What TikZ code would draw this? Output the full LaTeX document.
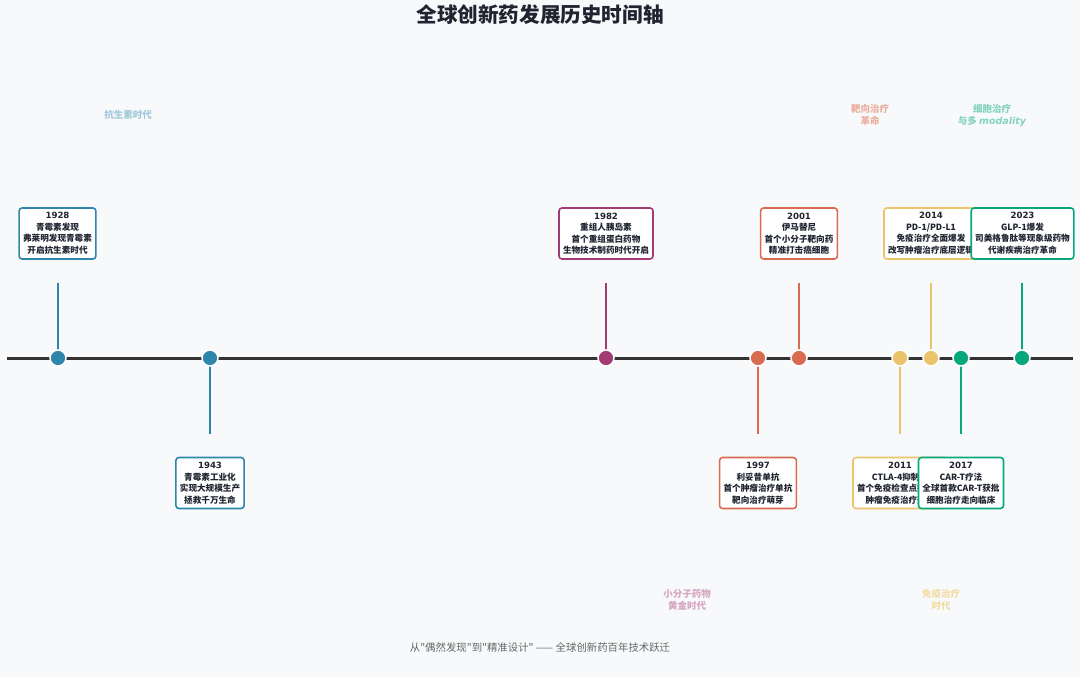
\documentclass[tikz,border=0pt]{standalone}
\usepackage{fontspec}
\setmainfont{Noto Sans CJK SC}
\newfontfamily\dejavu{DejaVu Sans}
\newfontfamily\footfont{Noto Sans CJK SC}
\usepackage{tikz}

\definecolor{bg}{HTML}{F7F9FB}
\definecolor{ink}{HTML}{1F2430}
\definecolor{axisgray}{HTML}{333333}
\definecolor{footgray}{HTML}{666666}
\definecolor{cblue}{HTML}{2E86AB}
\definecolor{cpurple}{HTML}{A23B72}
\definecolor{cred}{HTML}{D96B50}
\definecolor{cyellow}{HTML}{E9C46A}
\definecolor{cgreen}{HTML}{06A77D}

\newcommand{\yr}[1]{{\dejavu\bfseries #1}}

\tikzset{
  card/.style={draw=#1, fill=white, line width=1.6pt, rounded corners=3pt, align=center,
    font=\bfseries\fontsize{8.6}{11.5}\selectfont, text=ink, inner xsep=4pt, inner ysep=2pt,
    minimum height=51pt},
  dot/.style={circle, fill=#1, draw=white, line width=1.5pt, minimum size=16pt, inner sep=0pt},
  stem/.style={draw=#1, line width=1.6pt},
  era/.style={text=#1, font=\bfseries\fontsize{9.5}{12}\selectfont, align=center}
}

\begin{document}
\begin{tikzpicture}[x=1pt,y=-1pt]
            \fill[bg] (0,0) rectangle (1080,677);
            \useasboundingbox (0,0) rectangle (1080,677);

            \node[font=\bfseries\fontsize{20.6}{24}\selectfont, text=ink] (title) at (540,15) {全球创新药发展历史时间轴};

            \node[era=cblue!45] (e1) at (128,115) {抗生素时代};
            \node[era=cred!55] (e2) at (870,115) {靶向治疗\\革命};
            \node[era=cgreen!50] (e3) at (992,115) {细胞治疗\\与多 {\dejavu\itshape modality}};
            \node[era=cpurple!45] (e4) at (687,600) {小分子药物\\黄金时代};
            \node[era=cyellow!60] (e5) at (941,600) {免疫治疗\\时代};

            \coordinate (ax0) at (7,358);
            \coordinate (ax1) at (1073,358);
            \draw[axisgray, line width=3pt] (ax0) -- (ax1);

            \coordinate (s1928) at (58,283);
            \coordinate (s1943) at (210,434);
            \coordinate (s1982) at (606,283);
            \coordinate (s1997) at (758,434);
            \coordinate (s2001) at (799,283);
            \coordinate (s2011) at (900,434);
            \coordinate (s2014) at (931,283);
            \coordinate (s2017) at (961,434);
            \coordinate (s2023) at (1022,283);

            \draw[stem=cblue] (s1928) -- (58,358);
            \draw[stem=cblue] (s1943) -- (210,358);
            \draw[stem=cpurple] (s1982) -- (606,358);
            \draw[stem=cred] (s1997) -- (758,358);
            \draw[stem=cred] (s2001) -- (799,358);
            \draw[stem=cyellow] (s2011) -- (900,358);
            \draw[stem=cyellow] (s2014) -- (931,358);
            \draw[stem=cgreen] (s2017) -- (961,358);
            \draw[stem=cgreen] (s2023) -- (1022,358);

            \node[dot=cblue] (d1928) at (58,358) {};
            \node[dot=cblue] (d1943) at (210,358) {};
            \node[dot=cpurple] (d1982) at (606,358) {};
            \node[dot=cred] (d1997) at (758,358) {};
            \node[dot=cred] (d2001) at (799,358) {};
            \node[dot=cyellow] (d2011) at (900,358) {};
            \node[dot=cyellow] (d2014) at (931,358) {};
            \node[dot=cgreen] (d2017) at (961,358) {};
            \node[dot=cgreen] (d2023) at (1022,358) {};

            \node[card=cblue] (c1928) at (57.5,233.5) {\yr{1928}\\青霉素发现\\弗莱明发现青霉素\\开启抗生素时代};
            \node[card=cblue] (c1943) at (210,483) {\yr{1943}\\青霉素工业化\\实现大规模生产\\拯救千万生命};
            \node[card=cpurple] (c1982) at (606,233.5) {\yr{1982}\\重组人胰岛素\\首个重组蛋白药物\\生物技术制药时代开启};
            \node[card=cred] (c1997) at (758,483) {\yr{1997}\\利妥昔单抗\\首个肿瘤治疗单抗\\靶向治疗萌芽};
            \node[card=cred] (c2001) at (799,233.5) {\yr{2001}\\伊马替尼\\首个小分子靶向药\\精准打击癌细胞};
            \node[card=cyellow] (c2011) at (900,483) {\yr{2011}\\CTLA-4抑制剂\\首个免疫检查点抑制剂\\肿瘤免疫治疗开端};
            \node[card=cyellow] (c2014) at (931,233.5) {\yr{2014}\\PD-1/PD-L1\\免疫治疗全面爆发\\改写肿瘤治疗底层逻辑};
            \node[card=cgreen] (c2017) at (961,483) {\yr{2017}\\CAR-T疗法\\全球首款CAR-T获批\\细胞治疗走向临床};
            \node[card=cgreen] (c2023) at (1022.5,233.5) {\yr{2023}\\GLP-1爆发\\司美格鲁肽等现象级药物\\代谢疾病治疗革命};

            \node[text=footgray, font=\footfont\fontsize{10.4}{12}\selectfont] (foot) at (540,648) {从"偶然发现"到"精准设计" —— 全球创新药百年技术跃迁};
        \end{tikzpicture}
\end{document}
